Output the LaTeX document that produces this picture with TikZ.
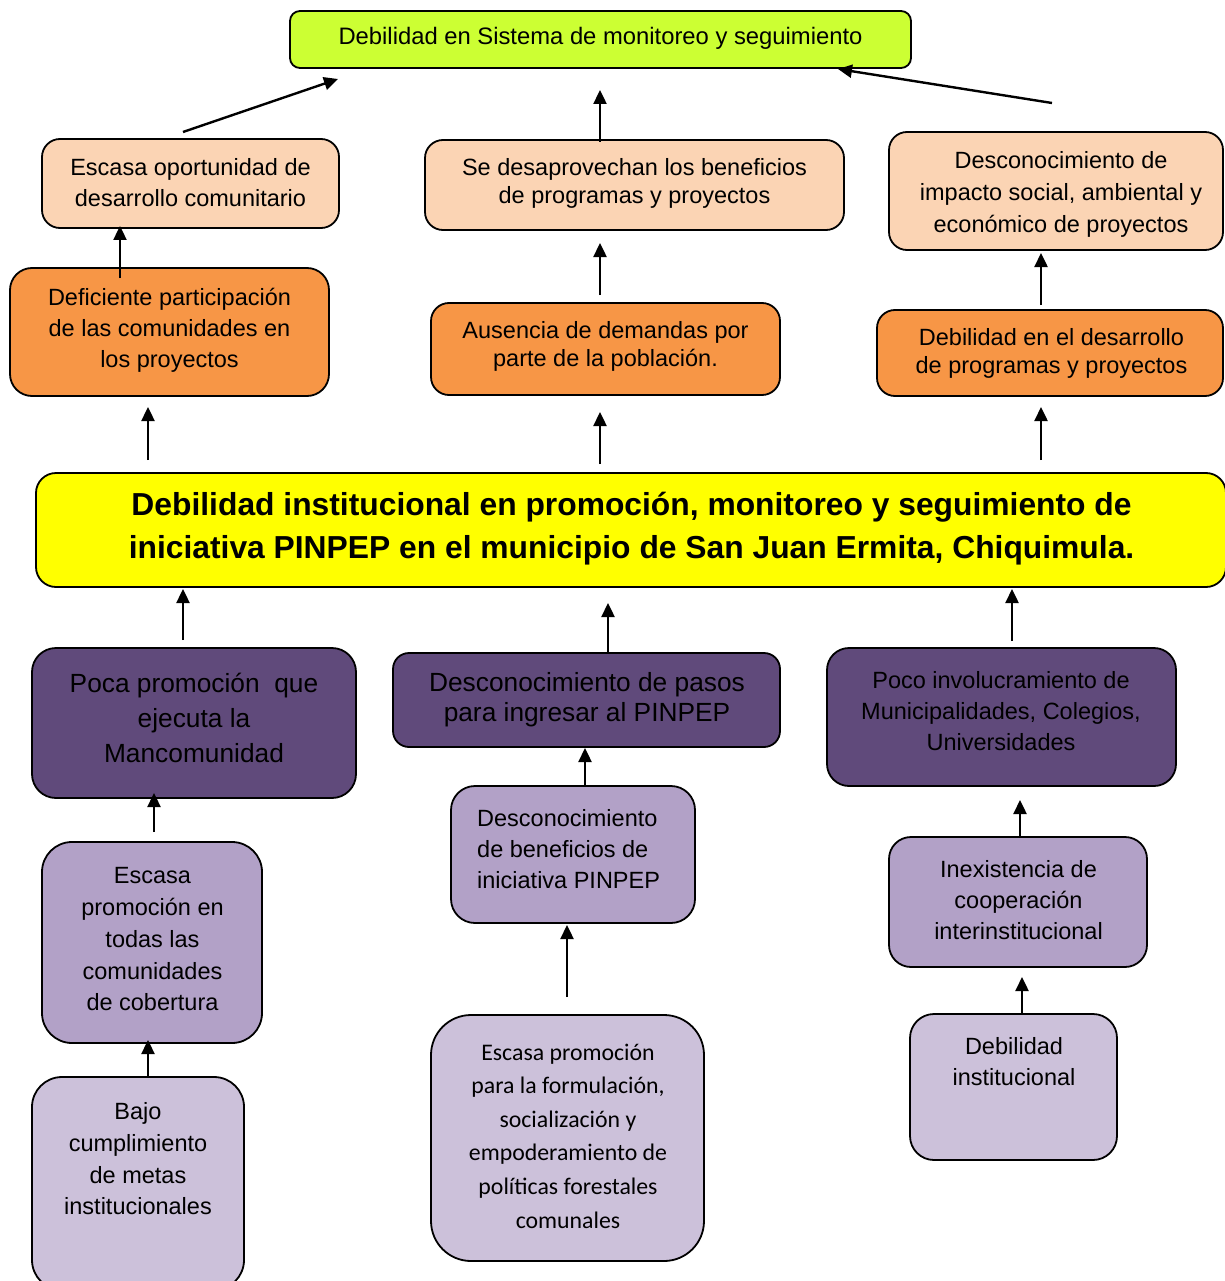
\documentclass[tikz,border=0pt]{standalone}
\usepackage{fontspec}
\setmainfont{Liberation Sans}
\newfontfamily\calib{Carlito}
\usetikzlibrary{arrows.meta}
\definecolor{cgreen}{HTML}{CCFF33}
\definecolor{cpeach}{HTML}{FBD4B4}
\definecolor{corange}{HTML}{F79646}
\definecolor{cyellow}{HTML}{FFFF00}
\definecolor{cdpurple}{HTML}{604A7B}
\definecolor{cmpurple}{HTML}{B2A1C7}
\definecolor{clpurple}{HTML}{CCC1DA}
\tikzset{
  box/.style={draw=black, line width=1.8pt, rounded corners=18pt, inner sep=0pt},
  txt/.style={inner sep=0pt, align=center, text=black, font=\fontsize{23.5}{31}\selectfont},
  arr/.style={line width=2.4pt, -{Triangle[length=14pt,width=13pt]}},
}
\begin{document}
\begin{tikzpicture}[x=1pt,y=-1pt]
\useasboundingbox (0,0) rectangle (1224,1281);
% top
\node[box, fill=cgreen, rounded corners=10pt, minimum width=621pt, minimum height=57pt] (top) at (600.5,39.5) {};
\node[txt, font=\fontsize{23.8}{28}\selectfont] (topt) at (600.5,38) {Debilidad en Sistema de monitoreo y seguimiento};
% consequences level 1
\node[box, fill=cpeach, minimum width=297pt, minimum height=89pt] (a1) at (190.5,183.5) {};
\node[txt] (a1t) at (190.5,182.5) {Escasa oportunidad de\\desarrollo comunitario};
\node[box, fill=cpeach, minimum width=419pt, minimum height=90pt] (b1) at (634.5,185) {};
\node[txt, font=\fontsize{23.5}{28}\selectfont] (b1t) at (634.5,183) {Se desaprovechan los beneficios\\de programas y proyectos};
\node[box, fill=cpeach, minimum width=334pt, minimum height=118pt] (c1) at (1056,191) {};
\node[txt, font=\fontsize{23.5}{32}\selectfont] (c1t) at (1061,194) {Desconocimiento de\\impacto social, ambiental y\\económico de proyectos};
% level 2
\node[box, fill=corange, rounded corners=22pt, minimum width=319pt, minimum height=128pt] (a2) at (169.5,332) {};
\node[txt] (a2t) at (169.5,330.5) {Deficiente participación\\de las comunidades en\\los proyectos};
\node[box, fill=corange, minimum width=349pt, minimum height=92pt] (b2) at (605.5,349) {};
\node[txt, font=\fontsize{23.5}{28}\selectfont] (b2t) at (605.5,346) {Ausencia de demandas por\\parte de la población.};
\node[box, fill=corange, minimum width=346pt, minimum height=86pt] (c2) at (1050,353) {};
\node[txt, font=\fontsize{23.5}{28}\selectfont] (c2t) at (1051.5,353) {Debilidad en el desarrollo\\de programas y proyectos};
% main
\node[box, fill=cyellow, rounded corners=20pt, minimum width=1190pt, minimum height=114pt] (main) at (631,530) {};
\node[txt, font=\bfseries\fontsize{31.8}{43}\selectfont] (maint) at (631.5,528.5) {Debilidad institucional en promoción, monitoreo y seguimiento de\\iniciativa PINPEP en el municipio de San Juan Ermita, Chiquimula.};
% causes level 1
\node[box, fill=cdpurple, rounded corners=24pt, minimum width=324pt, minimum height=150pt] (d1) at (194,723) {};
\node[txt, font=\fontsize{26.3}{35}\selectfont] (d1t) at (194,718) {Poca promoción \ que\\ejecuta la\\Mancomunidad};
\node[box, fill=cdpurple, rounded corners=16pt, minimum width=387pt, minimum height=94pt] (e1) at (586.5,700) {};
\node[txt, font=\fontsize{26.3}{30}\selectfont] (e1t) at (587,699.5) {Desconocimiento de pasos\\para ingresar al PINPEP};
\node[box, fill=cdpurple, rounded corners=22pt, minimum width=349pt, minimum height=138pt] (f1) at (1001.5,717) {};
\node[txt] (f1t) at (1001,711.5) {Poco involucramiento de\\Municipalidades, Colegios,\\Universidades};
% level 2
\node[box, fill=cmpurple, rounded corners=30pt, minimum width=220pt, minimum height=201pt] (d2) at (152,942.5) {};
\node[txt, font=\fontsize{23.5}{31.75}\selectfont] (d2t) at (152.5,939.5) {Escasa\\promoción en\\todas las\\comunidades\\de cobertura};
\node[box, fill=cmpurple, rounded corners=24pt, minimum width=244pt, minimum height=137pt] (e2) at (573,854.5) {};
\node[txt, align=left, anchor=west] (e2t) at (477,849.5) {Desconocimiento\\de beneficios de\\iniciativa PINPEP};
\node[box, fill=cmpurple, rounded corners=22pt, minimum width=258pt, minimum height=130pt] (f2) at (1018,902) {};
\node[txt] (f2t) at (1018.5,900.5) {Inexistencia de\\cooperación\\interinstitucional};
% level 3
\node[box, fill=clpurple, rounded corners=30pt, minimum width=212pt, minimum height=213pt] (d3) at (138,1183.5) {};
\node[txt, font=\fontsize{23.5}{31.7}\selectfont] (d3t) at (138,1159) {Bajo\\cumplimiento\\de metas\\institucionales};
\node[box, fill=clpurple, rounded corners=40pt, minimum width=273pt, minimum height=246pt] (e3) at (567.5,1138) {};
\node[txt, font=\calib\fontsize{23.8}{33.6}\selectfont] (e3t) at (568,1136) {Escasa promoción\\para la formulación,\\socialización y\\empoderamiento de\\políticas forestales\\comunales};
\node[box, fill=clpurple, rounded corners=24pt, minimum width=207pt, minimum height=146pt] (f3) at (1013.5,1087) {};
\node[txt] (f3t) at (1014,1061.5) {Debilidad\\institucional};
% arrow end points
\coordinate (p1s) at (183,132);  \coordinate (p1e) at (338,79);
\coordinate (p2s) at (600,142);  \coordinate (p2e) at (600,90);
\coordinate (p3s) at (1052,103); \coordinate (p3e) at (838,69);
\coordinate (p4s) at (120,278);  \coordinate (p4e) at (120,226);
\coordinate (p5s) at (600,295);  \coordinate (p5e) at (600,243);
\coordinate (p6s) at (1041,305); \coordinate (p6e) at (1041,253);
\coordinate (p7s) at (148,460);  \coordinate (p7e) at (148,407);
\coordinate (p8s) at (600,464);  \coordinate (p8e) at (600,412);
\coordinate (p9s) at (1041,460); \coordinate (p9e) at (1041,407);
\coordinate (q1s) at (183,640);  \coordinate (q1e) at (183,589);
\coordinate (q2s) at (608,653);  \coordinate (q2e) at (608,603);
\coordinate (q3s) at (1012,641); \coordinate (q3e) at (1012,589);
\coordinate (q4s) at (154,832);  \coordinate (q4e) at (154,793);
\coordinate (q5s) at (585,786);  \coordinate (q5e) at (585,748);
\coordinate (q6s) at (1020,838); \coordinate (q6e) at (1020,800);
\coordinate (q7s) at (148,1077); \coordinate (q7e) at (148,1040);
\coordinate (q8s) at (567,997);  \coordinate (q8e) at (567,925);
\coordinate (q9s) at (1022,1014);\coordinate (q9e) at (1022,977);
\foreach \n in {p1,p2,p3,p4,p5,p6,p7,p8,p9,q1,q2,q3,q4,q5,q6,q7,q8,q9}{
  \draw[arr] (\n s) -- (\n e);
}
\end{tikzpicture}
\end{document}
